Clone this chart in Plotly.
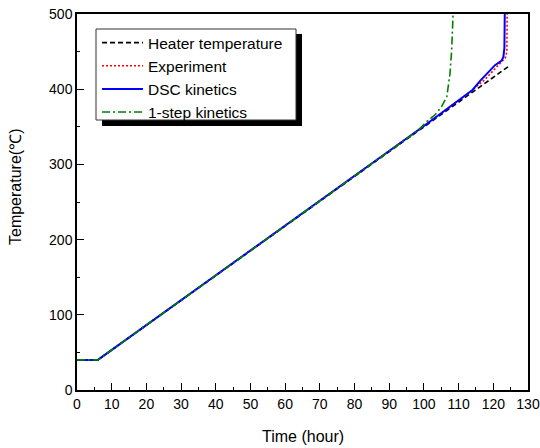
import plotly.graph_objects as go

# ---- data ----
heater_t = [0, 6, 124.3]
heater_T = [40, 40, 430]

exp_t = [0, 6, 100, 110, 114, 117.6, 119.5, 121, 122.6, 123.5, 123.9, 124.0, 124.0]
exp_T = [40, 40, 351, 385, 399, 413, 422, 430, 437, 442, 450, 470, 500]

dsc_t = [0, 6, 100, 110.4, 114, 116.2, 119, 120.5, 122.4, 122.9, 123.2, 123.3, 123.3]
dsc_T = [40, 40, 351, 387, 399, 411, 425, 432, 438, 443, 455, 470, 500]

step1_t = [0, 6, 98, 100.8, 103.2, 105, 106.6, 107.5, 108, 108.4]
step1_T = [40, 40, 344, 356.8, 366, 376, 390, 420, 452, 500]

x_ticks = [0, 10, 20, 30, 40, 50, 60, 70, 80, 90, 100, 110, 120, 130]
y_ticks = [0, 100, 200, 300, 400, 500]

FONT = "Arial, Liberation Sans, sans-serif"

fig = go.Figure()
fig.add_trace(go.Scatter(x=heater_t, y=heater_T, mode="lines", name="Heater temperature",
                         line=dict(color="black", width=1.6, dash="5px,3px")))
fig.add_trace(go.Scatter(x=exp_t, y=exp_T, mode="lines", name="Experiment",
                         line=dict(color="red", width=1.6, dash="2px,2px")))
fig.add_trace(go.Scatter(x=dsc_t, y=dsc_T, mode="lines", name="DSC kinetics",
                         line=dict(color="blue", width=2)))
fig.add_trace(go.Scatter(x=step1_t, y=step1_T, mode="lines", name="1-step kinetics",
                         line=dict(color="green", width=1.6, dash="8px,3px,2px,3px")))

L, R, T, B = 77, 528, 14, 390
W, H = 540, 448
pw, ph = R - L, B - T

def px(x):
    return (x - L) / pw

def py(y):
    return (B - y) / ph

shapes = [
    # legend shadow
    dict(type="rect", xref="paper", yref="paper", x0=px(102), x1=px(302), y0=py(126), y1=py(34),
         fillcolor="black", line=dict(width=0), layer="above"),
    # legend box
    dict(type="rect", xref="paper", yref="paper", x0=px(96), x1=px(296), y0=py(120), y1=py(29),
         fillcolor="white", line=dict(color="#333", width=1), layer="above"),
]

axis_common = dict(
    showline=True, linecolor="black", linewidth=1.5, mirror=True,
    ticks="inside", ticklen=7, tickwidth=1.2, tickcolor="black",
    showgrid=False, zeroline=False, automargin=False,
    tickfont=dict(family=FONT, size=14, color="black"),
)

fig.update_layout(
    width=W, height=H,
    margin=dict(l=L, r=W - R, t=T, b=H - B, autoexpand=False),
    paper_bgcolor="white", plot_bgcolor="white",
    showlegend=True,
    legend=dict(x=px(97), y=py(26), xanchor="left", yanchor="top",
                bgcolor="rgba(0,0,0,0)", borderwidth=0,
                font=dict(family=FONT, size=15.5, color="black"),
                itemwidth=41, tracegroupgap=0),
    shapes=shapes,
    xaxis=dict(range=[0, 130], tickvals=x_ticks,
               minor=dict(dtick=5, ticks="inside", ticklen=3.5, tickcolor="black", tickwidth=1.2),
               **axis_common),
    yaxis=dict(range=[0, 500], tickvals=y_ticks,
               minor=dict(dtick=50, ticks="inside", ticklen=3.5, tickcolor="black", tickwidth=1.2),
               **axis_common),
    annotations=[
        dict(text="Time (hour)", xref="paper", yref="paper", x=0.5, y=py(436),
             xanchor="center", yanchor="middle", showarrow=False,
             font=dict(family=FONT, size=16, color="black")),
        dict(text="Temperature(℃)", xref="paper", yref="paper", x=px(15), y=py(187),
             xanchor="center", yanchor="middle", showarrow=False, textangle=-90,
             font=dict(family=FONT, size=16, color="black")),
    ],
)

fig.write_html("out.html")
